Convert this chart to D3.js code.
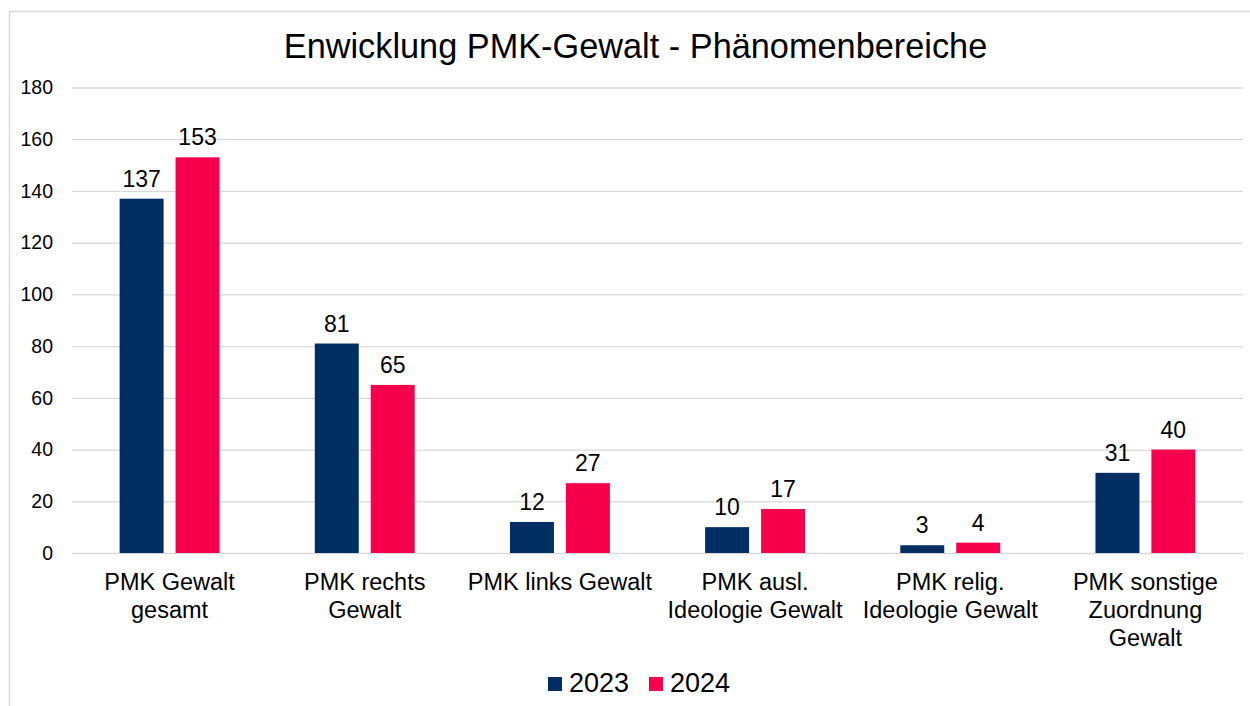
<!DOCTYPE html>
<html>
<head>
<meta charset="utf-8">
<script src="https://cdn.jsdelivr.net/npm/d3@7"></script>
<style>
  body { margin: 0; background: #fff; }
  svg text { font-family: "Liberation Sans", Arial, sans-serif; fill: #000; }
</style>
</head>
<body>
<div id="chart"></div>
<script>
// data
var categories = [
  "PMK Gewalt\ngesamt",
  "PMK rechts\nGewalt",
  "PMK links Gewalt",
  "PMK ausl.\nIdeologie Gewalt",
  "PMK relig.\nIdeologie Gewalt",
  "PMK sonstige\nZuordnung\nGewalt"
];
var seriesNames = ["2023", "2024"];
var values2023 = [137, 81, 12, 10, 3, 31];
var values2024 = [153, 65, 27, 17, 4, 40];
var yTicks = [0, 20, 40, 60, 80, 100, 120, 140, 160, 180];
var colors = ["#002D62", "#F6004E"];

var svgWidth = 1250;
var svgHeight = 706;

var svg = d3.select("#chart")
  .append("svg")
  .attr("width", svgWidth)
  .attr("height", svgHeight);

// chart frame
svg.append("rect")
  .attr("x", 9.5)
  .attr("y", 11.5)
  .attr("width", 1260)
  .attr("height", 720)
  .attr("fill", "none")
  .attr("stroke", "#d9d9d9")
  .attr("stroke-width", 1.5);

// title
svg.append("text")
  .attr("x", 635.5)
  .attr("y", 58)
  .attr("text-anchor", "middle")
  .style("font-size", "34.3px")
  .text("Enwicklung PMK-Gewalt - Phänomenbereiche");

var plot = { left: 72, right: 1243, top: 87.5, bottom: 553 };

var x0 = d3.scaleBand()
  .domain(d3.range(categories.length))
  .range([plot.left, plot.right]);

var cw = x0.bandwidth();
var x1 = d3.scaleBand()
  .domain(seriesNames)
  .range([cw * 0.244, cw * 0.756])
  .paddingInner(0.214);

var y = d3.scaleLinear()
  .domain([0, 180])
  .range([plot.bottom, plot.top]);

// gridlines + tick labels
var yAxis = d3.axisLeft(y)
  .tickValues(yTicks)
  .tickSize(-(plot.right - plot.left))
  .tickPadding(19);

var gy = svg.append("g")
  .attr("transform", `translate(${plot.left},0)`)
  .call(yAxis);
gy.select(".domain").remove();
gy.selectAll(".tick line").attr("stroke", "#d9d9d9").attr("stroke-width", 1.3);
gy.selectAll(".tick text")
  .style("font-size", "19.5px")
  .attr("fill", "#000");

// bars
var rows = categories.map(function(c, i) {
  return { i: i, vals: [values2023[i], values2024[i]] };
});

var groups = svg.selectAll(".cat")
  .data(rows)
  .enter()
  .append("g")
  .attr("transform", d => `translate(${x0(d.i)},0)`);

groups.selectAll("rect")
  .data(d => d.vals.map((v, k) => ({ name: seriesNames[k], v: v, k: k })))
  .enter()
  .append("rect")
  .attr("x", d => x1(d.name))
  .attr("width", x1.bandwidth())
  .attr("y", d => y(d.v))
  .attr("height", d => y(0) - y(d.v))
  .attr("fill", d => colors[d.k]);

groups.selectAll(".lbl")
  .data(d => d.vals.map((v, k) => ({ name: seriesNames[k], v: v })))
  .enter()
  .append("text")
  .attr("class", "lbl")
  .attr("x", d => x1(d.name) + x1.bandwidth() / 2)
  .attr("y", d => y(d.v) - 12)
  .attr("text-anchor", "middle")
  .style("font-size", "23px")
  .text(d => d.v);

// category labels
var catText = svg.append("g")
  .selectAll("text")
  .data(categories)
  .enter()
  .append("text")
  .attr("text-anchor", "middle")
  .style("font-size", "23.5px")
  .attr("x", (d, i) => x0(i) + cw / 2)
  .attr("y", 590);

catText.selectAll("tspan")
  .data(d => d.split("\n"))
  .enter()
  .append("tspan")
  .attr("x", function() { return this.parentNode.getAttribute("x"); })
  .attr("dy", (d, j) => j === 0 ? 0 : 28)
  .text(d => d);

// legend
var legend = svg.append("g")
  .selectAll("g")
  .data(seriesNames)
  .enter()
  .append("g")
  .attr("transform", (d, i) => `translate(${548 + i * 101},677)`);

legend.append("rect")
  .attr("width", 14)
  .attr("height", 14)
  .attr("fill", (d, i) => colors[i]);

legend.append("text")
  .attr("x", 21)
  .attr("y", 14.5)
  .style("font-size", "27px")
  .text(d => d);
</script>
</body>
</html>
